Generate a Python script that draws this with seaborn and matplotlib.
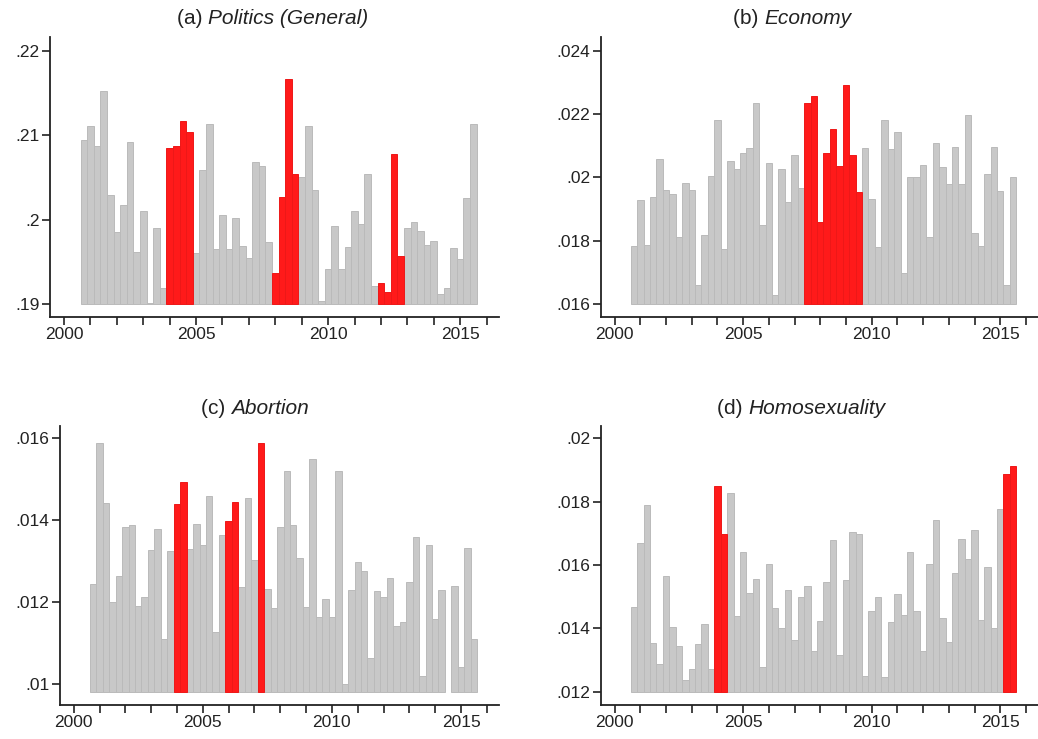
import numpy as np
import pandas as pd
import matplotlib
matplotlib.use("Agg")
import matplotlib.pyplot as plt
import matplotlib.colors as mcolors
import seaborn as sns

# quarterly share series, 2000Q4 .. 2015Q3
quarters = [f"{y}Q{q}" for y in range(2000, 2016) for q in range(1, 5)][3:63]

politics = [.2094, .2111, .2087, .2152, .2029, .1986, .2017, .2092, .1962, .2010,
            .1902, .1990, .1919, .2085, .2087, .2117, .2104, .1961, .2059, .2113,
            .1965, .2006, .1965, .2002, .1969, .1955, .2068, .2063, .1974, .1937,
            .2027, .2166, .2054, .2050, .2111, .2035, .1904, .1942, .1993, .1942,
            .1968, .2010, .1995, .2054, .1922, .1925, .1915, .2078, .1957, .1990,
            .1997, .1987, .1970, .1975, .1912, .1919, .1966, .1954, .2026, .2113]

economy = [.01785, .01929, .01788, .01940, .02059, .01960, .01948, .01811, .01983, .01960,
           .01661, .01818, .02006, .02181, .01775, .02051, .02026, .02076, .02093, .02234,
           .01851, .02047, .01628, .02028, .01924, .02071, .01966, .02234, .02258, .01859,
           .02078, .02152, .02035, .02291, .02071, .01955, .02093, .01932, .01780, .02180,
           .02090, .02142, .01698, .02003, .02003, .02039, .01811, .02108, .02032, .01978,
           .02096, .01980, .02197, .01825, .01785, .02012, .02096, .01958, .01661, .02000]

abortion = [.01244, .01589, .01443, .01200, .01263, .01383, .01389, .01192, .01213, .01327,
            .01379, .01111, .01324, .01439, .01494, .01331, .01391, .01339, .01459, .01127,
            .01364, .01398, .01444, .01237, .01454, .01302, .01588, .01233, .01185, .01383,
            .01520, .01389, .01309, .01189, .01550, .01164, .01208, .01163, .01520, .01000,
            .01230, .01298, .01276, .01065, .01227, .01213, .01259, .01141, .01153, .01249,
            .01359, .01021, .01340, .01159, .01229, np.nan, .01239, .01042, .01333, .01111]

homosexuality = [.01468, .01670, .01789, .01353, .01287, .01564, .01405, .01343, .01236, .01271,
                 .01350, .01415, .01271, .01848, .01697, .01829, .01440, .01642, .01513, .01555,
                 .01277, .01603, .01465, .01400, .01521, .01364, .01498, .01533, .01327, .01423,
                 .01546, .01680, .01316, .01552, .01704, .01699, .01251, .01456, .01499, .01247,
                 .01420, .01508, .01443, .01640, .01456, .01330, .01604, .01741, .01434, .01356,
                 .01576, .01682, .01620, .01711, .01427, .01595, .01400, .01776, .01888, .01914]

politics_hl = ["2004Q1", "2004Q2", "2004Q3", "2004Q4", "2008Q1", "2008Q2", "2008Q3", "2008Q4",
               "2012Q1", "2012Q2", "2012Q3", "2012Q4"]
economy_hl = ["2007Q3", "2007Q4", "2008Q1", "2008Q2", "2008Q3", "2008Q4",
              "2009Q1", "2009Q2", "2009Q3"]
abortion_hl = ["2004Q1", "2004Q2", "2006Q1", "2006Q2", "2007Q2"]
homosexuality_hl = ["2004Q1", "2004Q2", "2015Q2", "2015Q3"]

year_ticks = list(range(2000, 2017))
year_labels = [str(y) if y % 5 == 0 else "" for y in year_ticks]

politics_yticks = [.19, .20, .21, .22]
politics_ylabels = [".19", ".2", ".21", ".22"]
economy_yticks = [.016, .018, .020, .022, .024]
economy_ylabels = [".016", ".018", ".02", ".022", ".024"]
abortion_yticks = [.010, .012, .014, .016]
abortion_ylabels = [".01", ".012", ".014", ".016"]
homosexuality_yticks = [.012, .014, .016, .018, .020]
homosexuality_ylabels = [".012", ".014", ".016", ".018", ".02"]

sns.set_style("ticks")
plt.rcParams["font.family"] = ["Liberation Sans", "DejaVu Sans"]
plt.rcParams["axes.linewidth"] = 1.3
plt.rcParams["axes.edgecolor"] = "#222222"

GRAY = "#c8c8c8"
RED = "#ff1a1a"

panels = [
    # letter, name, values, highlighted, bar base, ticks, labels, ylim, rect (px: l, t, r, b), title px (x, y)
    ("(a) ", "Politics (General)", politics, politics_hl, .19, politics_yticks, politics_ylabels,
     (.1885, .2216), (50, 37, 499, 317), (177, 18)),
    ("(b) ", "Economy", economy, economy_hl, .016, economy_yticks, economy_ylabels,
     (.0156, .02443), (601, 37, 1038, 317), (733, 18)),
    ("(c) ", "Abortion", abortion, abortion_hl, .00982, abortion_yticks, abortion_ylabels,
     (.009495, .0163), (60, 426, 499, 705), (201, 408)),
    ("(d) ", "Homosexuality", homosexuality, homosexuality_hl, .012, homosexuality_yticks,
     homosexuality_ylabels, (.01158, .02039), (601, 426, 1038, 705), (717, 408)),
]

W, H = 1038, 739
fig = plt.figure(figsize=(W / 100, H / 100), dpi=100)

for letter, name, vals, hl, base, yt, yl, ylim, rect, tpos in panels:
    l, t, r, b = rect
    ax = fig.add_axes([l / W, 1 - b / H, (r - l) / W, (b - t) / H])

    df = pd.DataFrame({"quarter": quarters, "value": vals})
    df["t"] = df["quarter"].str[:4].astype(int) + (df["quarter"].str[-1].astype(int) - 1) / 4
    df["height"] = df["value"] - base
    df["group"] = np.where(df["quarter"].isin(hl), "hl", "base")
    df = df.dropna()

    sns.barplot(data=df, x="t", y="height", hue="group", palette={"base": GRAY, "hl": RED},
                native_scale=True, width=1, dodge=False, errorbar=None, legend=False,
                saturation=1, bottom=base, linewidth=0.7, ax=ax)
    for p in ax.patches:
        fc = np.array(mcolors.to_rgb(p.get_facecolor()))
        p.set_edgecolor(fc * 0.93)

    ax.set_xlim(1999.47, 2016.47)
    ax.set_ylim(*ylim)
    ax.set_xticks(year_ticks)
    ax.set_xticklabels(year_labels)
    ax.set_yticks(yt)
    ax.set_yticklabels(yl)
    ax.set_xlabel("")
    ax.set_ylabel("")
    ax.tick_params(axis="both", direction="out", length=5.5, width=1.2, color="#222222",
                   labelsize=12.5, labelcolor="#222222", pad=2)
    sns.despine(ax=ax)

    t1 = fig.text(tpos[0] / W, 1 - tpos[1] / H, letter, fontsize=15, color="#222222",
                  ha="left", va="center")
    ax.annotate(name, xy=(1, 0), xycoords=t1, va="bottom", ha="left", fontsize=15,
                color="#222222", style="italic")

fig.savefig("out.png", dpi=100)
